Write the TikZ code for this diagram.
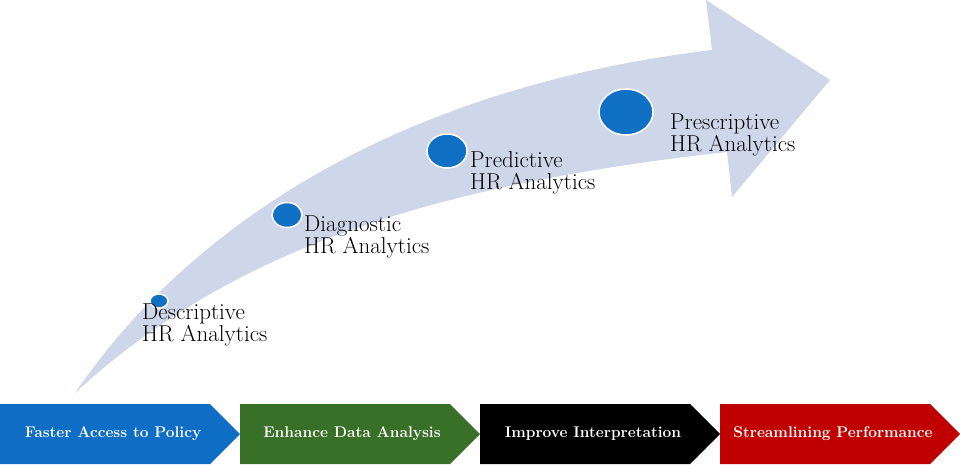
\documentclass[tikz,border=0pt]{standalone}
\usetikzlibrary{positioning}
\definecolor{arrowfill}{RGB}{206,214,234}
\definecolor{dotblue}{RGB}{16,112,196}
\definecolor{stepblue}{RGB}{14,109,196}
\definecolor{stepgreen}{RGB}{56,112,40}
\definecolor{stepred}{RGB}{192,0,0}
\tikzset{
  stage/.style={anchor=base west, inner sep=0pt, align=left,
    font=\fontsize{23}{21.5}\selectfont},
  dot/.style={fill=dotblue, draw=white, line width=1.5pt},
  steplabel/.style={text=white, inner sep=0pt,
    font=\fontsize{15.5}{18}\selectfont\bfseries},
}
\begin{document}
\begin{tikzpicture}[x=1pt,y=-1pt]
\useasboundingbox (0,0) rectangle (960,464);
% big curved arrow
\fill[arrowfill] (75,393) .. controls (200,210) and (420,85) .. (712,50)
  -- (706,0) -- (830,80) -- (732,197) -- (727,152)
  .. controls (430,185) and (230,250) .. (75,393) -- cycle;
% stages
\draw[dot] (159,301) ellipse (9 and 7);
\draw[dot] (287,215) ellipse (15 and 12.5);
\draw[dot] (447,151) ellipse (20 and 17);
\draw[dot] (626,112) ellipse (27 and 23);
\node[stage] (descr) at (142,341) {Descriptive\\HR Analytics};
\node[stage] (diagn) at (304,253) {Diagnostic\\HR Analytics};
\node[stage] (predi) at (470,189) {Predictive\\HR Analytics};
\node[stage] (presc) at (670,151) {Prescriptive\\HR Analytics};
% chevrons
\fill[stepblue] (0,404) -- ++(210,0) -- ++(30,30) -- ++(-30,30) -- ++(-210,0) -- cycle;
\fill[stepgreen] (240,404) -- ++(210,0) -- ++(30,30) -- ++(-30,30) -- ++(-210,0) -- cycle;
\fill[black] (480,404) -- ++(210,0) -- ++(30,30) -- ++(-30,30) -- ++(-210,0) -- cycle;
\fill[stepred] (720,404) -- ++(210,0) -- ++(30,30) -- ++(-30,30) -- ++(-210,0) -- cycle;
\node[steplabel] (faster) at (113,434) {Faster Access to Policy};
\node[steplabel] (enhance) at (352,434) {Enhance Data Analysis};
\node[steplabel] (improve) at (593,434) {Improve Interpretation};
\node[steplabel] (stream) at (833,434) {Streamlining Performance};
\end{tikzpicture}
\end{document}
